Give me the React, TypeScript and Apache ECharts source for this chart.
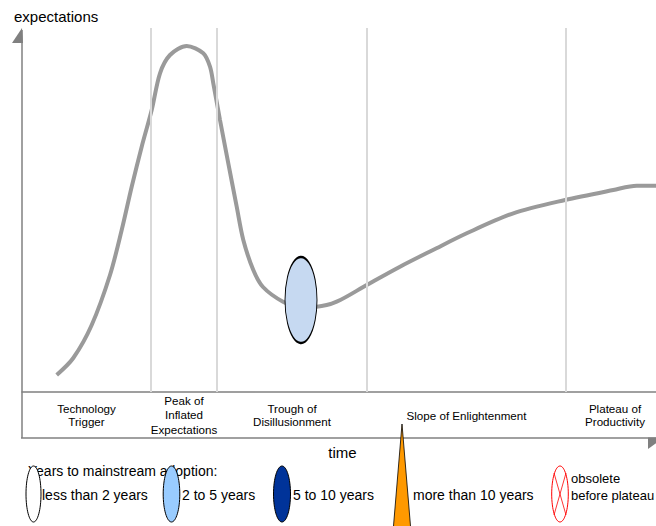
import React, { useEffect, useRef } from "react";
import * as echarts from "echarts";

// Hype-cycle curve (time units from the left axis, expectation units from the baseline)
const timeValues = [34.7, 51.3, 69.7, 88, 99.7, 109.7, 119.7, 129.7, 138, 148, 164.7, 181.3, 188, 191.3, 198, 206.3, 214.7, 221.3, 231.3, 241, 261, 278, 294.7, 314.7, 344.7, 378, 411, 444.7, 491.3, 543, 591.3, 614.7, 634];
const expectationValues = [17, 34, 67, 117, 162, 205.3, 245.3, 282, 318.7, 337, 346, 338.7, 325.3, 308.7, 272, 228.7, 185.3, 152, 122, 105, 90.3, 85, 85.3, 90.3, 107, 125.3, 142, 158.7, 178.7, 192, 202, 206.3, 206.3];

// Phase boundaries along the time axis
const phaseBoundaries = [129, 195, 345, 544];
const phaseNames = ["Technology\nTrigger", "Peak of\nInflated\nExpectations", "Trough of\nDisillusionment", "Slope of Enlightenment", "Plateau of\nProductivity"];

// Technology marker on the curve
const markerPoint = [279, 92];

const legendTitle = "Years to mainstream adoption:";
const legendLabels = ["less than 2 years", "2 to 5 years", "5 to 10 years", "more than 10 years", "obsolete\nbefore plateau"];

const FONT = "Liberation Sans, Arial, sans-serif";

export default function App() {
  const ref = useRef<HTMLDivElement>(null);
  useEffect(() => {
    if (!ref.current) return;
    const chart = echarts.init(ref.current, null, { renderer: "svg" });
    const curve = timeValues.map((t, i) => [t, expectationValues[i]]);
    const axisColor = "#808080";

    const phaseLayout = [
      { x: 86.5, y: 415, lh: 12.5 },
      { x: 184, y: 414.5, lh: 14.5 },
      { x: 292, y: 415, lh: 12.5 },
      { x: 466.5, y: 415.5, lh: 12.5 },
      { x: 615, y: 415, lh: 13 },
    ];

    const graphics: any[] = [
      // y axis with arrow
      { type: "line", shape: { x1: 22, y1: 30, x2: 22, y2: 438 }, style: { stroke: axisColor, lineWidth: 1.5 } },
      { type: "polygon", shape: { points: [[22, 28], [12, 43], [23, 43]] }, style: { fill: axisColor } },
      // bottom time axis with arrow
      { type: "line", shape: { x1: 21, y1: 438, x2: 656, y2: 438 }, style: { stroke: axisColor, lineWidth: 1.5 } },
      { type: "polygon", shape: { points: [[648, 437.5], [664, 437.5], [648, 449]] }, style: { fill: axisColor } },
      { type: "text", x: 14, y: 16, style: { text: "expectations", font: `15px ${FONT}`, fill: "#000", textVerticalAlign: "middle" } },
      { type: "text", x: 342.5, y: 452, style: { text: "time", font: `15px ${FONT}`, fill: "#000", textAlign: "center", textVerticalAlign: "middle" } },
    ];
    phaseNames.forEach((name, i) => {
      const p = phaseLayout[i];
      graphics.push({
        type: "text", x: p.x, y: p.y,
        style: { text: name, font: `11.6px ${FONT}`, lineHeight: p.lh, fill: "#000", textAlign: "center", textVerticalAlign: "middle" },
      });
    });

    // legend
    const legendFont = `14px ${FONT}`;
    graphics.push({ type: "text", x: 28, y: 471, style: { text: legendTitle, font: legendFont, fill: "#000", textVerticalAlign: "middle" } });
    graphics.push({ type: "text", x: 42, y: 495, style: { text: legendLabels[0], font: legendFont, fill: "#000", textVerticalAlign: "middle" } });
    graphics.push({ type: "text", x: 182, y: 495, style: { text: legendLabels[1], font: legendFont, fill: "#000", textVerticalAlign: "middle" } });
    graphics.push({ type: "text", x: 293, y: 495, style: { text: legendLabels[2], font: legendFont, fill: "#000", textVerticalAlign: "middle" } });
    graphics.push({ type: "text", x: 413, y: 495, style: { text: legendLabels[3], font: legendFont, fill: "#000", textVerticalAlign: "middle" } });
    graphics.push({ type: "text", x: 571, y: 486.5, style: { text: legendLabels[4], font: `13px ${FONT}`, lineHeight: 17, fill: "#000", textVerticalAlign: "middle" } });

    graphics.push({ type: "ellipse", z: 10, shape: { cx: 33.5, cy: 494, rx: 7.5, ry: 28 }, style: { fill: "#ffffff", stroke: "#000", lineWidth: 1 } });
    graphics.push({ type: "ellipse", z: 10, shape: { cx: 171.5, cy: 494, rx: 8.3, ry: 28 }, style: { fill: "#99ccff", stroke: "#000", lineWidth: 1 } });
    graphics.push({ type: "ellipse", z: 10, shape: { cx: 282, cy: 494, rx: 8.5, ry: 28 }, style: { fill: "#003399", stroke: "#000", lineWidth: 1 } });
    graphics.push({ type: "polygon", z: 10, shape: { points: [[402, 424], [393, 532], [411, 532]] }, style: { fill: "#ff9900", stroke: "#000", lineWidth: 0.8 } });
    graphics.push({ type: "ellipse", z: 10, shape: { cx: 560, cy: 494, rx: 8.3, ry: 28 }, style: { fill: "none", stroke: "#ff0000", lineWidth: 1 } });
    graphics.push({ type: "line", z: 10, shape: { x1: 554, y1: 473, x2: 566, y2: 515 }, style: { stroke: "#ff0000", lineWidth: 0.8 } });
    graphics.push({ type: "line", z: 10, shape: { x1: 566, y1: 473, x2: 554, y2: 515 }, style: { stroke: "#ff0000", lineWidth: 0.8 } });

    chart.setOption({
      animation: false,
      backgroundColor: "#ffffff",
      grid: { left: 22, right: 0, top: 28, bottom: 134 },
      xAxis: {
        type: "value", min: 0, max: 634,
        axisLine: { show: true, lineStyle: { color: axisColor, width: 1.5 } },
        axisTick: { show: false }, axisLabel: { show: false }, splitLine: { show: false },
      },
      yAxis: {
        type: "value", min: 0, max: 364, show: false,
        splitLine: { show: false },
      },
      series: [
        {
          type: "line", data: [], z: 1, silent: true,
          markLine: {
            silent: true, symbol: ["none", "none"], label: { show: false },
            lineStyle: { color: "#d9d9d9", width: 2, type: "solid" },
            data: phaseBoundaries.map((b) => ({ xAxis: b })),
          },
        },
        {
          type: "line", data: curve, z: 2, smooth: 0.3, showSymbol: false, symbol: "none",
          lineStyle: { color: "#9a9a9a", width: 4 },
        },
        {
          type: "scatter", data: [markerPoint], z: 3, symbol: "circle", symbolSize: [32, 86],
          itemStyle: { color: "#c6d9f1", borderColor: "#000", borderWidth: 1.5, opacity: 1 },
        },
      ],
      graphic: graphics,
    });
    return () => chart.dispose();
  }, []);
  return <div ref={ref} style={{ position: "fixed", left: 0, top: 0, width: 656, height: 526 }} />;
}
